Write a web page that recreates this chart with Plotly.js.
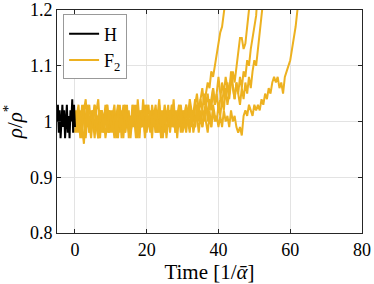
<!DOCTYPE html>
<html><head><meta charset="utf-8">
<script src="https://cdn.plot.ly/plotly-3.0.1.min.js"></script>
<style>html,body{margin:0;padding:0;background:#fff}#chart{width:374px;height:284px}</style>
</head><body><div id="chart"></div>
<script>
var tH = [-5,-4.75,-4.5,-4.25,-4,-3.75,-3.5,-3.25,-3,-2.75,-2.5,-2.25,-2,-1.75,-1.5,-1.25,-1,-0.75,-0.5,-0.25,0];
var rhoH = [1.00,1.03,0.98,1.02,0.97,1.01,1.03,0.99,1.02,0.97,1.00,1.03,0.98,1.01,0.97,1.02,1.00,1.04,0.98,1.03,0.99];

var tF = [0,0.5,1,1.5,2,2.5,3,3.5,4,4.5,5,5.5,6,6.5,7,7.5,8,8.5,9,9.5,10,
10.5,11,11.5,12,12.5,13,13.5,14,14.5,15,15.5,16,16.5,17,17.5,18,18.5,19,19.5,20,
20.5,21,21.5,22,22.5,23,23.5,24,24.5,25,25.5,26,26.5,27,27.5,28,28.5,29,29.5,30,
30.5,31,31.5,32,32.5,33,33.5,34,34.5,35,35.5,36,36.5,37,37.5,38,38.5,39,39.5,40,
40.5,41,41.5,42,42.5,43,43.5,44,44.5,45,45.5,46,46.5,47,47.5,48,48.5,49,49.5,50,
50.5,51,51.5,52,52.5,53,53.5,54,54.5,55,55.5,56,56.5,57,57.5,58,58.5,59,59.5,60,
60.5,61,61.5,62,62.5];

var rhoF_1 = [1.00,1.02,0.98,1.01,0.97,1.03,0.99,1.01,0.98,1.02,1.00,0.97,1.02,1.04,0.99,1.01,0.98,1.00,1.03,0.98,1.01,
0.99,1.02,0.97,1.00,1.03,0.99,1.01,0.98,1.02,1.00,0.98,1.03,1.01,0.97,1.00,1.02,0.99,1.04,1.00,0.98,
1.01,0.99,1.03,1.00,0.98,1.02,1.01,0.97,1.00,1.03,1.01,0.99,1.02,1.00,1.04,0.99,1.01,1.03,0.99,1.02,
1.00,1.03,1.01,1.04,1.02,1.00,1.03,1.05,1.02,1.04,1.06,1.03,1.05,1.07,1.06,1.09,1.08,1.10,1.12,1.14,
1.16,1.17,1.19,1.22,1.26];
var rhoF_2 = [0.99,1.01,1.03,0.98,1.00,1.02,0.97,1.01,1.03,0.99,1.02,0.98,1.00,1.01,0.97,1.02,1.00,1.03,0.99,0.98,1.02,
1.00,0.97,1.01,1.03,0.98,1.02,1.00,0.99,1.03,0.97,1.01,1.00,1.02,0.98,1.04,1.00,0.99,1.02,0.97,1.01,
1.03,0.99,1.00,1.02,0.98,1.01,1.04,0.99,1.02,1.00,0.98,1.02,1.00,1.03,0.99,1.01,1.00,1.02,0.98,1.01,
1.02,0.99,1.01,1.03,1.00,1.02,0.99,1.03,1.01,1.04,1.02,1.00,1.03,1.05,1.02,1.04,1.06,1.03,1.05,1.02,
1.04,1.07,1.05,1.08,1.06,1.04,1.07,1.09,1.07,1.10,1.13,1.15,1.15,1.13,1.14,1.17,1.19,1.23];
var rhoF_3 = [1.01,0.98,1.00,1.02,0.99,0.96,1.01,1.03,0.98,1.00,1.02,0.99,1.01,0.97,1.02,1.00,0.98,1.01,1.03,1.00,0.98,
1.02,0.99,1.01,0.97,1.02,1.00,1.03,0.98,1.00,1.02,0.97,1.01,0.99,1.03,1.00,0.98,1.02,0.99,1.01,1.03,
0.99,1.01,0.97,1.02,1.00,0.98,1.03,1.00,1.01,0.98,1.02,1.00,0.99,1.03,1.01,0.98,1.02,1.00,1.02,0.99,
1.01,1.03,1.00,1.02,0.99,1.02,1.04,1.01,1.03,1.00,1.02,1.05,1.03,1.01,1.04,1.02,1.06,1.03,1.05,1.08,
1.05,1.03,1.06,1.04,1.07,1.05,1.08,1.06,1.04,1.07,1.05,1.08,1.06,1.09,1.08,1.11,1.10,1.13,1.15,1.17,1.19,1.24];
var rhoF_4 = [0.98,1.00,1.02,0.99,1.03,1.00,0.98,1.02,1.00,0.97,1.01,1.03,0.99,1.01,1.02,0.98,1.01,0.97,1.00,1.02,0.99,
1.01,1.03,0.98,1.00,1.02,0.97,1.01,1.03,0.99,1.01,0.98,1.00,1.03,0.99,1.01,0.97,1.02,1.00,1.03,0.99,
1.00,1.02,0.99,1.01,1.03,0.98,1.00,1.02,0.97,1.01,1.00,1.03,0.98,1.01,0.99,1.02,0.97,1.01,1.03,1.00,
0.99,1.02,1.00,0.98,1.02,1.01,0.99,1.03,1.00,1.02,0.99,1.01,1.04,1.00,1.02,0.99,1.03,1.01,1.00,1.03,
1.01,1.04,1.02,1.06,1.03,1.05,1.09,1.06,1.04,1.07,1.05,1.03,1.06,1.04,1.07,1.05,1.08,1.06,1.09,1.11,1.10,1.13,1.16,1.18,1.21,1.25];
var rhoF_5 = [1.02,0.99,1.01,0.97,1.00,1.02,1.04,0.99,1.01,0.98,1.00,1.03,0.99,0.97,1.01,1.02,0.99,1.01,0.98,1.02,1.00,
0.98,1.01,1.00,1.02,0.99,1.01,0.97,1.02,1.00,0.98,1.01,0.99,1.02,1.00,0.97,1.01,0.99,1.01,0.98,1.02,
1.00,0.98,1.01,0.99,1.02,1.00,0.98,1.01,0.99,1.02,0.97,1.00,1.02,0.99,1.01,0.98,1.00,0.99,1.02,0.98,
1.00,0.98,1.01,0.99,1.02,0.98,1.00,1.01,0.98,1.01,0.99,1.02,1.00,0.98,1.01,0.99,1.02,1.00,1.01,0.99,
1.01,0.99,1.02,1.00,1.01,0.99,1.02,1.00,1.01,0.99,0.98,0.99,0.975,1.01,1.02,1.01,1.03,1.02,1.01,1.03,
1.02,1.03,1.02,1.04,1.03,1.05,1.04,1.06,1.05,1.07,1.08,1.07,1.08,1.06,1.07,1.05,1.08,1.09,1.10,1.11,1.13,1.15,1.17,1.20,1.25];

var xTicks = [0,20,40,60,80];
var yTicks = [0.8,0.9,1,1.1,1.2];
var yTickText = ['0.8','0.9','1','1.1','1.2'];

var yellow = '#EDB120';
var fSeries = [rhoF_1, rhoF_2, rhoF_3, rhoF_4, rhoF_5];
var traces = fSeries.map(function(v, i){
  return {x: tF.slice(0, v.length), y: v, type:'scatter', mode:'lines',
    line:{color:yellow, width:2}, name:'F<sub>2</sub>', showlegend: i===0,
    legendgroup:'F2', legendrank:2};
});
traces.push({x:tH, y:rhoH, type:'scatter', mode:'lines', line:{color:'#000000', width:2},
  name:'H', legendrank:1});

var font = {family:'"Liberation Serif", "Times New Roman", serif', color:'#000'};
var axisBase = {showline:true, linecolor:'#262626', linewidth:1, mirror:'ticks',
  ticks:'inside', ticklen:4, tickcolor:'#262626', showgrid:true, gridcolor:'#e3e3e3',
  zeroline:false, ticklabeloverflow:'allow', tickfont:Object.assign({size:18}, font)};

var layout = {
  width:374, height:284,
  margin:{l:57, r:12, t:10, b:51},
  paper_bgcolor:'#fff', plot_bgcolor:'#fff',
  font:font,
  xaxis:Object.assign({}, axisBase, {range:[-5,80.001], tickvals:xTicks,
    title:{text:'Time [1/<i>ᾱ</i>]', font:Object.assign({size:21}, font), standoff:2}}),
  yaxis:Object.assign({}, axisBase, {range:[0.7999,1.2001], tickvals:yTicks, ticktext:yTickText,
    title:{text:'<i>ρ</i>/<i>ρ</i><sup>*</sup>', font:Object.assign({size:21}, font), standoff:6}}),
  showlegend:true,
  legend:{x:0.02, y:0.98, xanchor:'left', yanchor:'top', bgcolor:'#fff',
    bordercolor:'#999', borderwidth:1, font:Object.assign({size:18}, font),
    itemwidth:30, tracegroupgap:0}
};

Plotly.newPlot('chart', traces, layout, {staticPlot:true, displayModeBar:false});
</script></body></html>
